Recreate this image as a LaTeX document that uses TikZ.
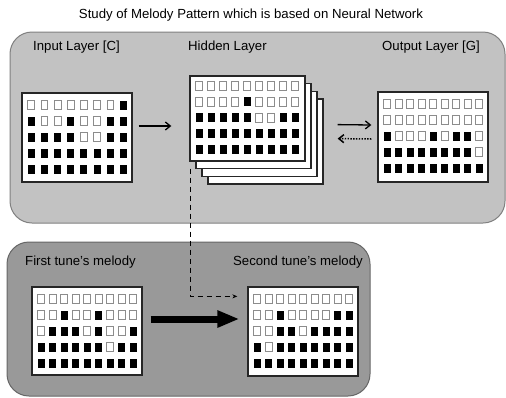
\documentclass[tikz,border=0pt]{standalone}
\usepackage{fontspec}
\setmainfont{Liberation Sans}
\usetikzlibrary{arrows.meta,calc,positioning}

% cells of one melody grid: name, left, top, column step, rows
\newcommand{\drawcells}[5]{%
  \foreach \bits [count=\row] in {#5} {
    \foreach \b [count=\col] in \bits {
      \node[cell\b] (#1-\row-\col) at ({#2+9+(\col-1)*#4},{#3+12+(\row-1)*16}) {};
    }
  }
}

\begin{document}
\begin{tikzpicture}[x=1pt, y=-1pt,
    font=\fontsize{13.2}{15}\selectfont,
    panel/.style={line width=1pt, rounded corners=22pt},
    gridbox/.style={draw=black!85, line width=1.3pt, fill=white, inner sep=0pt,
        minimum width=110pt, minimum height=89pt},
    cell0/.style={draw=black!45, line width=0.6pt, fill=white, inner sep=0pt,
        minimum width=6.8pt, minimum height=8.8pt},
    cell1/.style={fill=black, inner sep=0pt, minimum width=7pt, minimum height=9pt},
    flow/.style={-{Straight Barb[length=5pt,width=8pt]}, line width=1.3pt},
    label/.style={inner sep=0pt}
]
    \useasboundingbox (0,0) rectangle (506,397);

    % Background panels
    \draw[panel, draw=black!50, fill=black!24] (10,32) rectangle (505,223);
    \draw[panel, draw=black!60, fill=black!40] (7,242) rectangle (370,396);

    % Title and labels
    \node[label] (title) at (251,15) {Study of Melody Pattern which is based on Neural Network};
    \node[label, anchor=west] (inlabel) at (33,47) {Input Layer [C]};
    \node[label, anchor=west] (hidlabel) at (188,47) {Hidden Layer};
    \node[label, anchor=east] (outlabel) at (480,47) {Output Layer [G]};
    \node[label, anchor=west] (firstlabel) at (25,262) {First tune’s melody};
    \node[label, anchor=east] (secondlabel) at (363,262) {Second tune’s melody};

    % Input layer
    \node[gridbox] (input) at (77,137.5) {};
    \drawcells{in}{22}{93}{13.2}{
        {0,0,0,0,0,0,0,1},
        {1,0,0,1,0,0,1,1},
        {1,1,1,1,0,0,1,1},
        {1,1,1,1,1,1,1,1},
        {1,1,1,1,1,1,1,1}}

    % Hidden layer (stack of sheets)
    \foreach \k in {3,2,1} {
        \node[gridbox, minimum width=115pt, minimum height=85pt]
            (sheet\k) at ({247.5+6*\k},{118.5+7.7*\k}) {};
    }
    \node[gridbox, minimum width=115pt, minimum height=85pt] (hidden) at (247.5,118.5) {};
    \drawcells{hid}{190}{73.5}{12}{
        {0,0,0,0,0,0,0,0,0},
        {0,0,0,0,1,0,0,0,0},
        {1,1,1,1,1,0,0,1,1},
        {1,1,1,1,1,1,1,1,1},
        {1,1,1,1,1,1,1,1,1}}

    % Output layer
    \node[gridbox, minimum height=90pt] (output) at (433,137) {};
    \drawcells{out}{378}{92}{11.5}{
        {0,0,0,0,0,0,0,0,0},
        {0,0,0,0,0,0,0,0,0},
        {1,0,0,0,1,0,1,1,0},
        {1,1,1,1,1,1,1,1,0},
        {1,1,1,1,1,1,1,1,1}}

    % First and second tune
    \node[gridbox, minimum height=88pt] (first) at (87,331) {};
    \drawcells{fst}{32}{287}{11.5}{
        {0,0,0,0,0,0,0,0,0},
        {0,0,1,0,0,1,0,0,0},
        {0,1,1,1,0,1,0,0,1},
        {1,1,1,1,1,1,0,1,1},
        {1,1,1,1,1,1,1,1,1}}
    \node[gridbox] (second) at (303,331.5) {};
    \drawcells{snd}{248}{287}{11.5}{
        {0,0,0,0,0,0,0,0,0},
        {0,0,1,0,0,0,0,1,1},
        {0,0,1,1,0,1,1,1,1},
        {1,0,1,1,1,1,1,1,1},
        {1,1,1,1,1,1,1,1,1}}

    % Connectors
    \draw[flow] ($(input.east)+(6,-11.5)$) -- ($(hidden.west)+(-18,7.5)$);
    \draw[flow] ($(sheet3.east)+(14,-17)$) -- ($(output.west)+(-6,-12)$);
    \draw[flow, dash pattern=on 1.4pt off 1.4pt, line width=1.5pt]
        ($(output.west)+(-6,2)$) -- ($(sheet3.east)+(14,-3)$);
    \draw[dash pattern=on 5pt off 4pt, line width=1pt, -{Stealth[length=5pt,width=4pt]}]
        ($(hidden.south west)+(1,7)$) |- ($(second.north west)+(-10,10)$);
    \draw[line width=7pt, -{Triangle[length=22pt,width=16pt]}]
        ($(first.east)+(8,-12)$) -- ($(second.west)+(-8,-12.5)$);
\end{tikzpicture}
\end{document}
